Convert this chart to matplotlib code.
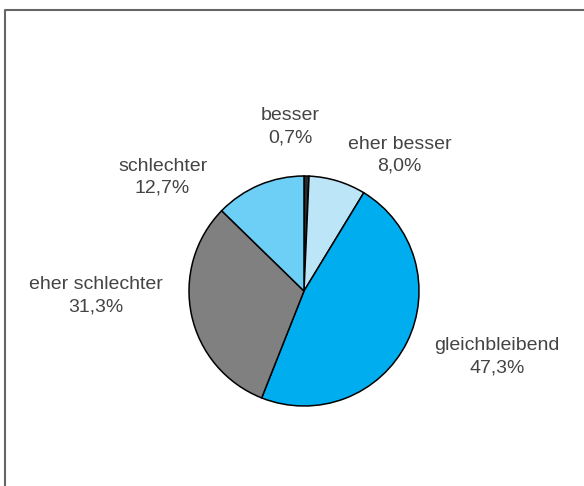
import matplotlib
matplotlib.use("Agg")
import matplotlib.pyplot as plt
from matplotlib.lines import Line2D

# Einschätzung der Entwicklung (Anteile in %)
categories = ["besser", "eher besser", "gleichbleibend", "eher schlechter", "schlechter"]
shares = [0.7, 8.0, 47.3, 31.3, 12.7]
colors = ["#2b2b2b", "#bde5f8", "#00aeef", "#808080", "#6dcff6"]

# label centres in pie units (radius = 1)
label_pos = [(-0.12, 1.43), (0.83, 1.18), (1.68, -0.57), (-1.81, -0.04), (-1.23, 0.99)]

W, H = 584, 486
fig = plt.figure(figsize=(W / 100, H / 100), dpi=100)

# frame: top and left edges (the rest runs off the page)
x0, y0 = 4.5 / W, 1 - 10.5 / H
fig.add_artist(Line2D([x0, x0, 1.0], [0.0, y0, y0], transform=fig.transFigure,
                      color="#666666", linewidth=1.5))

cx, cy, r = 304, 291, 115
ax = fig.add_axes([(cx - r) / W, (H - cy - r) / H, 2 * r / W, 2 * r / H])
ax.pie(shares, colors=colors, startangle=90, counterclock=False,
       wedgeprops=dict(edgecolor="black", linewidth=1.1))
ax.set_xlim(-1, 1)
ax.set_ylim(-1, 1)
ax.set_aspect("equal")
ax.axis("off")

for name, val, (x, y) in zip(categories, shares, label_pos):
    txt = "%s\n%s%%" % (name, ("%.1f" % val).replace(".", ","))
    ax.text(x, y, txt, ha="center", va="center", fontsize=14,
            color="#444444", linespacing=1.38, clip_on=False,
            family=["Liberation Sans", "DejaVu Sans"])

fig.savefig("out.png", dpi=100)
